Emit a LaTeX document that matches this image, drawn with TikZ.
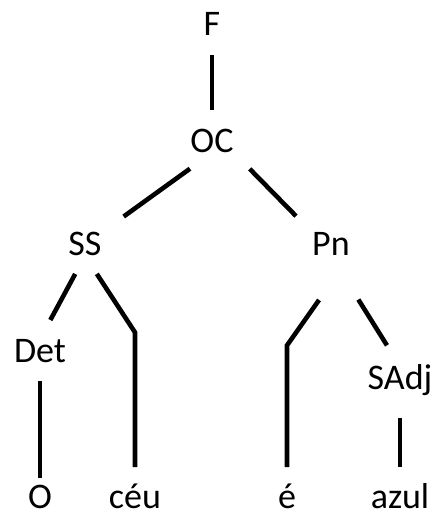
\documentclass[tikz,border=0pt]{standalone}
\usepackage{fontspec}
\setmainfont{Carlito}
\usetikzlibrary{positioning}
\tikzset{
	on grid,
	every node/.style={font=\fontsize{18}{20}\selectfont, inner sep=0pt, text height=11.4pt, text depth=0pt},
	branch/.style={line width=2.3pt}, % the tree lines
}

\begin{document}
\begin{tikzpicture}
      \useasboundingbox (-106pt,12pt) rectangle (109.5pt,-247.5pt);

      \node (F) at (0,0) {F};
      \node[below=58.5pt of F] (OC) {OC};
      \node[below left=51.5pt and 63.5pt of OC] (SS) {SS};
      \node[below right=51.5pt and 59.5pt of OC] (Pn) {Pn};
      \node[below left=53.5pt and 22.5pt of SS] (Det) {Det};
      \node[below right=126.5pt and 25pt of SS] (ceu) {céu};
      \node[below left=126.5pt and 22pt of Pn] (e) {é};
      \node[below right=67pt and 34.5pt of Pn] (SAdj) {SAdj};
      \node[below=73pt of Det] (O) {O};
      \node[below=59.5pt of SAdj] (azul) {azul};

      \coordinate[above=82.3pt of ceu] (ceubend);
      \coordinate[above=75.8pt of e] (ebend);

      \draw[branch, shorten <=9.5pt, shorten >=9.5pt] (F.south) -- (OC.north);
      \draw[branch, shorten <=13.6pt, shorten >=13.4pt] (OC.south) -- (SS.north east);
      \draw[branch, shorten <=11.3pt, shorten >=11.3pt] (OC.south east) -- (Pn.north west);
      \draw[branch, shorten <=10.3pt, shorten >=10.9pt] (SS.south) -- (Det.north);
      \draw[branch, shorten <=10.8pt, shorten >=9pt] (SS.south) -- (ceubend) -- (ceu.north);
      \draw[branch, shorten <=27pt, shorten >=9pt] (Pn.south east) -- (ebend) -- (e.north);
      \draw[branch, shorten <=25.8pt, shorten >=12.3pt] (Pn.south) -- (SAdj.north);
      \draw[branch, shorten <=9pt, shorten >=3.5pt] (Det.south) -- (O.north);
      \draw[branch, shorten <=14pt, shorten >=9pt] (SAdj.south) -- (azul.north);
    \end{tikzpicture}
\end{document}
